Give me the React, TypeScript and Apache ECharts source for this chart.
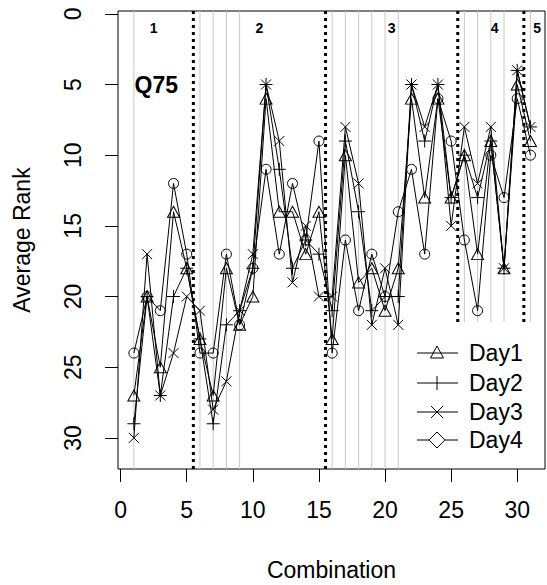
import React, { useEffect, useRef } from "react";
import * as echarts from "echarts";

// ---------- data ----------
const combination = [1, 2, 3, 4, 5, 6, 7, 8, 9, 10, 11, 12, 13, 14, 15, 16, 17, 18, 19, 20, 21, 22, 23, 24, 25, 26, 27, 28, 29, 30, 31];
const day1 = [27, 20, 25, 14, 18, 23, 27, 18, 22, 20, 6, 14, 14, 17, 14, 23, 10, 19, 18, 21, 18, 6, 13, 6, 13, 10, 17, 9, 18, 5, 9];
const day2 = [29, 20, 27, 20, 18, 23, 29, 22, 21, 18, 5, 11, 18, 16, 17, 21, 9, 14, 21, 20, 20, 5, 9, 5, 13, 10, 13, 9, 18, 4, 8];
const day3 = [30, 17, 27, 24, 20, 21, 28, 26, 21, 17, 5, 9, 19, 15, 20, 20, 8, 12, 22, 18, 22, 5, 8, 5, 15, 8, 12, 8, 18, 4, 8];
const day4 = [24, 20, 21, 12, 17, 24, 24, 17, 22, 18, 11, 17, 12, 16, 9, 24, 16, 21, 17, 20, 14, 11, 17, 6, 9, 16, 21, 10, 13, 6, 10];
const seriesNames = ["Day1", "Day2", "Day3", "Day4"];

const groupBounds = [5.5, 15.5, 25.5, 30.5];
const groupLabels = ["1", "2", "3", "4", "5"];
const groupLabelX = [2.5, 10.5, 20.5, 28.3, 31.5];
const groupLabelY = [1, 1, 1, 1, 1];
const markedCombos = [1, 6, 7, 8, 9, 16, 17, 18, 19, 20, 21, 26, 27, 28, 29, 31];
const panelTitle = "Q75";
const panelTitlePos = [2.7, 5];

const xTicks = [0, 5, 10, 15, 20, 25, 30];
const yTicks = [0, 5, 10, 15, 20, 25, 30];

// ---------- style ----------
const FONT = "'Liberation Sans', Arial, sans-serif";
const FS = 23;
const X_MIN = -0.2;
const X_MAX = 32.1;
const Y_MIN = -0.2;
const Y_MAX = 32.2;
const LEGEND_CLEAR = 21.8; // lines in groups 4/5 stop above the legend

const PLUS = "path://M0,6L12,6M6,0L6,12";
const CROSS = "path://M0,0L10,10M10,0L0,10";

const symbols = ["triangle", PLUS, CROSS, "circle"];
const symbolSizes: any[] = [[12, 11], 13, 10, 10];

export default function App() {
  const ref = useRef<HTMLDivElement>(null);

  useEffect(() => {
    if (!ref.current) return;
    const chart = echarts.init(ref.current, undefined, { renderer: "svg" });

    const allDays = [day1, day2, day3, day4];

    const lineSeries = allDays.map((vals, k) => ({
      type: "line",
      name: seriesNames[k],
      data: combination.map((c, i) => [c, vals[i]]),
      symbol: symbols[k],
      symbolSize: symbolSizes[k],
      showAllSymbol: true,
      z: 5,
      lineStyle: { color: "#000", width: 1 },
      itemStyle: { color: "rgba(0,0,0,0)", borderColor: "#000", borderWidth: 1 },
      emphasis: { disabled: true },
    }));

    const vline = (stroke: string, width: number, dash: any) => (params: any, api: any) => {
      const x = api.value(0);
      const yEnd = api.value(1);
      const p1 = api.coord([x, Y_MIN]);
      const p2 = api.coord([x, yEnd]);
      return {
        type: "line",
        shape: { x1: p1[0], y1: p1[1], x2: p2[0], y2: p2[1] },
        style: { stroke, lineWidth: width, lineDash: dash },
      };
    };

    const option: any = {
      animation: false,
      backgroundColor: "#fff",
      grid: {
        left: 118,
        top: 11,
        width: 427,
        height: 458,
        show: true,
        borderColor: "#000",
        borderWidth: 1,
        backgroundColor: "transparent",
        containLabel: false,
        outerBoundsMode: "none",
      },
      xAxis: {
        type: "value",
        min: X_MIN,
        max: X_MAX,
        name: "Combination",
        nameLocation: "middle",
        nameGap: 89,
        nameTextStyle: { fontFamily: FONT, fontSize: FS, color: "#000" },
        axisLine: { show: false, onZero: false },
        splitLine: { show: false },
        axisTick: { show: true, length: 13, lineStyle: { color: "#000" }, customValues: xTicks },
        axisLabel: { fontFamily: FONT, fontSize: FS, color: "#000", margin: 29, customValues: xTicks },
      },
      yAxis: {
        type: "value",
        inverse: true,
        min: Y_MIN,
        max: Y_MAX,
        name: "Average Rank",
        nameLocation: "middle",
        nameRotate: 90,
        nameGap: 85,
        nameTextStyle: { fontFamily: FONT, fontSize: FS, color: "#000" },
        axisLine: { show: false, onZero: false },
        splitLine: { show: false },
        axisTick: { show: true, length: 13, lineStyle: { color: "#000" }, customValues: yTicks },
        axisLabel: { fontFamily: FONT, fontSize: FS, color: "#000", margin: 34, rotate: 90, customValues: yTicks },
      },
      series: [
        {
          type: "custom",
          name: "marked",
          z: 1,
          silent: true,
          renderItem: vline("#c8c8c8", 1, null),
          data: markedCombos.map((c) => [c, c > 25.5 ? LEGEND_CLEAR : Y_MAX]),
        },
        {
          type: "custom",
          name: "bounds",
          z: 2,
          silent: true,
          renderItem: vline("#000", 3, [3, 4]),
          data: groupBounds.map((b) => [b, b > 25 ? LEGEND_CLEAR : Y_MAX]),
        },
        ...lineSeries,
        {
          type: "custom",
          name: "labels",
          z: 6,
          silent: true,
          renderItem: (params: any, api: any) => {
            const p = api.coord([api.value(0), api.value(1)]);
            const i = params.dataIndex;
            const isTitle = i === groupLabels.length;
            return {
              type: "text",
              x: p[0],
              y: p[1],
              style: {
                text: isTitle ? panelTitle : groupLabels[i],
                font: isTitle ? `bold 23px ${FONT}` : `bold 14px ${FONT}`,
                fill: "#000",
                align: "center",
                verticalAlign: "middle",
              },
            };
          },
          data: [...groupLabelX.map((x, i) => [x, groupLabelY[i]]), panelTitlePos],
        },
      ],
      graphic: [],
    };

    // legend (drawn as graphics, R style)
    const lx1 = 417, lx2 = 458, lsx = 437, ltx = 469;
    const rows = [353, 383, 412, 440];
    const g: any[] = [];
    rows.forEach((y, k) => {
      g.push({ type: "line", z: 50, shape: { x1: lx1, y1: y, x2: lx2, y2: y }, style: { stroke: "#000", lineWidth: 1 } });
      const st = { stroke: "#000", fill: "rgba(0,0,0,0)", lineWidth: 1 };
      if (k === 0) {
        g.push({ type: "polygon", z: 51, shape: { points: [[lsx, y - 7], [lsx - 6.5, y + 5], [lsx + 6.5, y + 5]] }, style: st });
      } else if (k === 1) {
        g.push({ type: "line", z: 51, shape: { x1: lsx, y1: y - 7, x2: lsx, y2: y + 7 }, style: st });
      } else if (k === 2) {
        g.push({ type: "line", z: 51, shape: { x1: lsx - 6, y1: y - 6, x2: lsx + 6, y2: y + 6 }, style: st });
        g.push({ type: "line", z: 51, shape: { x1: lsx - 6, y1: y + 6, x2: lsx + 6, y2: y - 6 }, style: st });
      } else {
        g.push({ type: "polygon", z: 51, shape: { points: [[lsx, y - 8], [lsx + 8, y], [lsx, y + 8], [lsx - 8, y]] }, style: { ...st, fill: "#fff" } });
      }
      g.push({
        type: "text",
        z: 51,
        x: ltx,
        y,
        style: { text: seriesNames[k], font: `${FS}px ${FONT}`, fill: "#000", align: "left", verticalAlign: "middle" },
      });
    });
    option.graphic = g;

    chart.setOption(option);
    return () => chart.dispose();
  }, []);

  return (
    <div
      ref={ref}
      style={{ position: "fixed", left: 0, top: 0, width: 547, height: 585, background: "#fff" }}
    />
  );
}
